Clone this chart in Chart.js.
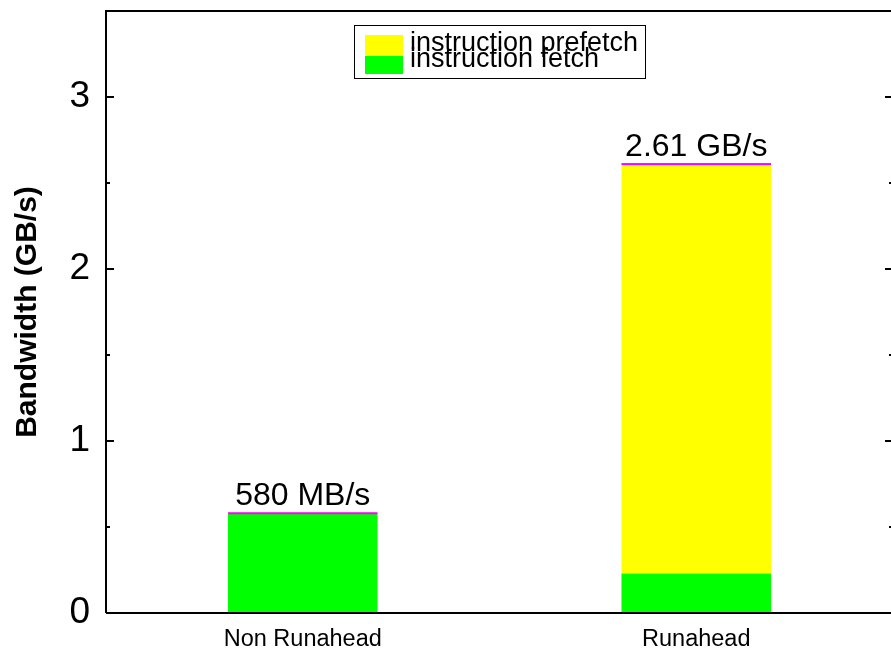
<!DOCTYPE html>
<html>
<head>
<meta charset="utf-8">
<script src="https://cdn.jsdelivr.net/npm/chart.js@4.4.0/dist/chart.umd.min.js"></script>
<style>
  html, body { margin: 0; padding: 0; overflow: hidden; background: #fff; }
</style>
</head>
<body>
<canvas id="bwChart" width="895" height="650"></canvas>
<script>
const categories = ['Non Runahead', 'Runahead'];
const fetchGB = [0.58, 0.23];
const prefetchGB = [0, 2.38];
const topLabels = ['580 MB/s', '2.61 GB/s'];
const yTicks = [0, 1, 2, 3];

const FONT = '"Liberation Sans", Arial, Helvetica, sans-serif';

// frame + inward ticks on both sides
const framePlugin = {
    id: 'frame',
    afterDraw(chart) {
        const { ctx, chartArea: a } = chart;
        const y = chart.scales.y;
        ctx.save();
        ctx.strokeStyle = '#000';
        ctx.lineWidth = 2;
        ctx.beginPath();
        ctx.moveTo(a.left, a.bottom);
        ctx.lineTo(a.left, a.top);
        ctx.lineTo(a.right, a.top);
        ctx.lineTo(a.right, a.bottom);
        ctx.lineTo(a.left, a.bottom);
        ctx.stroke();
        y.ticks.forEach(t => {
            const py = y.getPixelForValue(t.value);
            const len = yTicks.includes(t.value) ? 8 : 4;
            ctx.beginPath();
            ctx.moveTo(a.left, py);
            ctx.lineTo(a.left + len, py);
            ctx.moveTo(a.right, py);
            ctx.lineTo(a.right - len, py);
            ctx.stroke();
        });
        ctx.restore();
    }
};

// magenta cap and value label above each stacked bar
const topPlugin = {
    id: 'tops',
    afterDatasetsDraw(chart) {
        const { ctx } = chart;
        const last = chart.getDatasetMeta(chart.data.datasets.length - 1);
        ctx.save();
        last.data.forEach((bar, i) => {
            const w = bar.width;
            ctx.fillStyle = '#ff00ff';
            ctx.fillRect(bar.x - w / 2, bar.y - 1, w, 2);
            ctx.fillStyle = '#000';
            ctx.font = '32px ' + FONT;
            ctx.textAlign = 'center';
            ctx.textBaseline = 'alphabetic';
            ctx.fillText(topLabels[i], bar.x, bar.y - 8);
        });
        ctx.restore();
    }
};

// overlapping legend box, as in the original
const legendPlugin = {
    id: 'boxLegend',
    afterDraw(chart) {
        const { ctx } = chart;
        const ds = chart.data.datasets;
        ctx.save();
        ctx.strokeStyle = '#000';
        ctx.lineWidth = 1;
        ctx.strokeRect(354.5, 25.5, 291, 53);
        ctx.fillStyle = ds[1].backgroundColor;
        ctx.fillRect(365, 35, 38, 21);
        ctx.fillStyle = ds[0].backgroundColor;
        ctx.fillRect(365, 56, 38, 18);
        ctx.fillStyle = '#000';
        ctx.font = '27px ' + FONT;
        ctx.textAlign = 'left';
        ctx.textBaseline = 'alphabetic';
        ctx.fillText(ds[1].label, 410, 51);
        ctx.fillText(ds[0].label, 410, 67);
        ctx.restore();
    }
};

new Chart(document.getElementById('bwChart'), {
    type: 'bar',
    data: {
        labels: categories,
        datasets: [{
            label: 'instruction fetch',
            data: fetchGB,
            backgroundColor: '#00ff00',
            borderWidth: 0,
            barPercentage: 0.38,
            categoryPercentage: 1
        },
        {
            label: 'instruction prefetch',
            data: prefetchGB,
            backgroundColor: '#ffff00',
            borderWidth: 0,
            barPercentage: 0.38,
            categoryPercentage: 1
        }]
    },
    options: {
        responsive: false,
        animation: false,
        layout: { padding: { top: 11, right: 2, left: 0, bottom: 0 } },
        plugins: {
            legend: { display: false },
            tooltip: { enabled: false }
        },
        scales: {
            x: {
                stacked: true,
                grid: { display: false },
                border: { display: false },
                ticks: {
                    color: '#000',
                    padding: 4,
                    font: { family: FONT, size: 23.5 }
                },
                afterFit: s => {
                    s.height = 37;
                    s.paddingLeft = 0;
                    s.paddingRight = 0;
                }
            },
            y: {
                stacked: true,
                min: 0,
                max: 3.5,
                grid: { display: false, drawTicks: false },
                border: { display: false },
                ticks: {
                    stepSize: 0.5,
                    autoSkip: false,
                    padding: 16,
                    color: '#000',
                    font: { family: FONT, size: 37 },
                    callback: v => yTicks.includes(v) ? String(v) : ''
                },
                title: {
                    display: true,
                    text: 'Bandwidth (GB/s)',
                    color: '#000',
                    padding: { top: 10, bottom: 0 },
                    font: { family: FONT, size: 30, weight: 'bold' }
                },
                afterFit: s => {
                    s.width = 106;
                    s.paddingTop = 0;
                    s.paddingBottom = 0;
                }
            }
        }
    },
    plugins: [framePlugin, topPlugin, legendPlugin]
});
</script>
</body>
</html>
